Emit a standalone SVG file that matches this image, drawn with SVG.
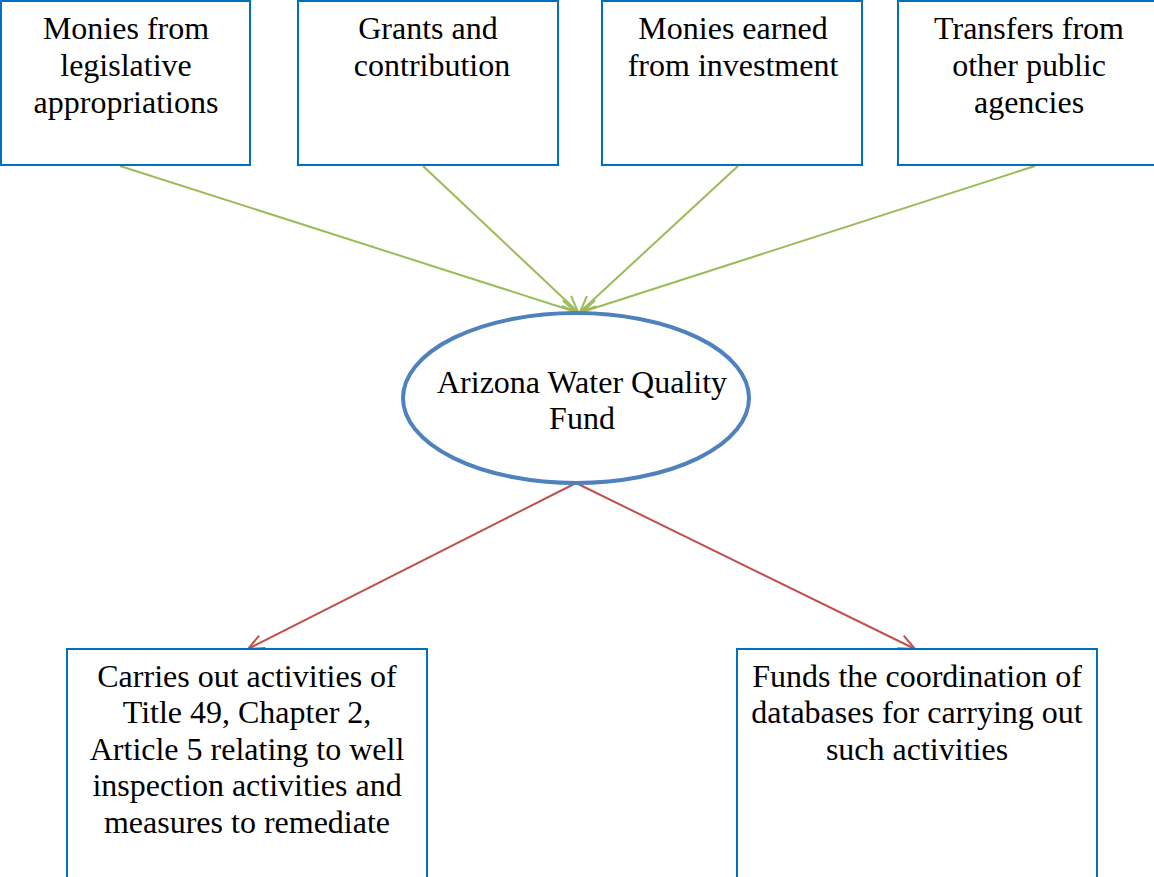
<svg xmlns="http://www.w3.org/2000/svg" width="1154" height="877" viewBox="0 0 1154 877">
<defs>
<style>
.box{fill:#fff;stroke:#0070C0;stroke-width:2}
.t{font-family:"Liberation Serif","Times New Roman",serif;font-size:32px;fill:#000;text-anchor:middle}
.g{stroke:#9BBB59;stroke-width:2;fill:none}
.r{stroke:#C0504D;stroke-width:2;fill:none}
</style>
<marker id="ag" markerWidth="20" markerHeight="20" refX="18" refY="10" orient="auto" markerUnits="userSpaceOnUse"><path d="M2,3 L18,10 L2,17" fill="none" stroke="#9BBB59" stroke-width="2"/></marker>
<marker id="ar" markerWidth="20" markerHeight="20" refX="18" refY="10" orient="auto" markerUnits="userSpaceOnUse"><path d="M2,3 L18,10 L2,17" fill="none" stroke="#C0504D" stroke-width="2"/></marker>
</defs>
<rect width="1154" height="877" fill="#fff"/>
<g id="connectors">
<line class="g" x1="120" y1="166" x2="576" y2="312" marker-end="url(#ag)"/>
<line class="g" x1="423" y1="166" x2="578" y2="312" marker-end="url(#ag)"/>
<line class="g" x1="738" y1="166" x2="580" y2="312" marker-end="url(#ag)"/>
<line class="g" x1="1035" y1="166" x2="582" y2="312" marker-end="url(#ag)"/>
<line class="r" x1="576" y1="483" x2="248" y2="649" marker-end="url(#ar)"/>
<line class="r" x1="576" y1="483" x2="915" y2="649" marker-end="url(#ar)"/>
</g>
<g id="n1"><rect class="box" x="1" y="1" width="249" height="164"/>
<text class="t" x="126" y="39">Monies from</text><text class="t" x="126" y="76">legislative</text><text class="t" x="126" y="113">appropriations</text></g>
<g id="n2"><rect class="box" x="298" y="1" width="260" height="164"/>
<text class="t" x="428" y="39">Grants and</text><text class="t" x="432" y="76">contribution</text></g>
<g id="n3"><rect class="box" x="602" y="1" width="260" height="164"/>
<text class="t" x="733" y="39">Monies earned</text><text class="t" x="733" y="76">from investment</text></g>
<g id="n4"><rect class="box" x="898" y="1" width="262" height="164"/>
<text class="t" x="1029" y="39">Transfers from</text><text class="t" x="1029" y="76">other public</text><text class="t" x="1029" y="113">agencies</text></g>
<g id="fund"><ellipse cx="576" cy="398" rx="173" ry="85" fill="#fff" stroke="#4F81BD" stroke-width="4"/>
<text class="t" x="582" y="393">Arizona Water Quality</text><text class="t" x="582" y="429">Fund</text></g>
<g id="n5"><rect class="box" x="67" y="649" width="360" height="240"/>
<text class="t" x="247" y="687">Carries out activities of</text><text class="t" x="247" y="723">Title 49, Chapter 2,</text><text class="t" x="247" y="760">Article 5 relating to well</text><text class="t" x="247" y="796">inspection activities and</text><text class="t" x="247" y="833">measures to remediate</text></g>
<g id="n6"><rect class="box" x="737" y="649" width="360" height="240"/>
<text class="t" x="917" y="687">Funds the coordination of</text><text class="t" x="917" y="723">databases for carrying out</text><text class="t" x="917" y="760">such activities</text></g>
</svg>
